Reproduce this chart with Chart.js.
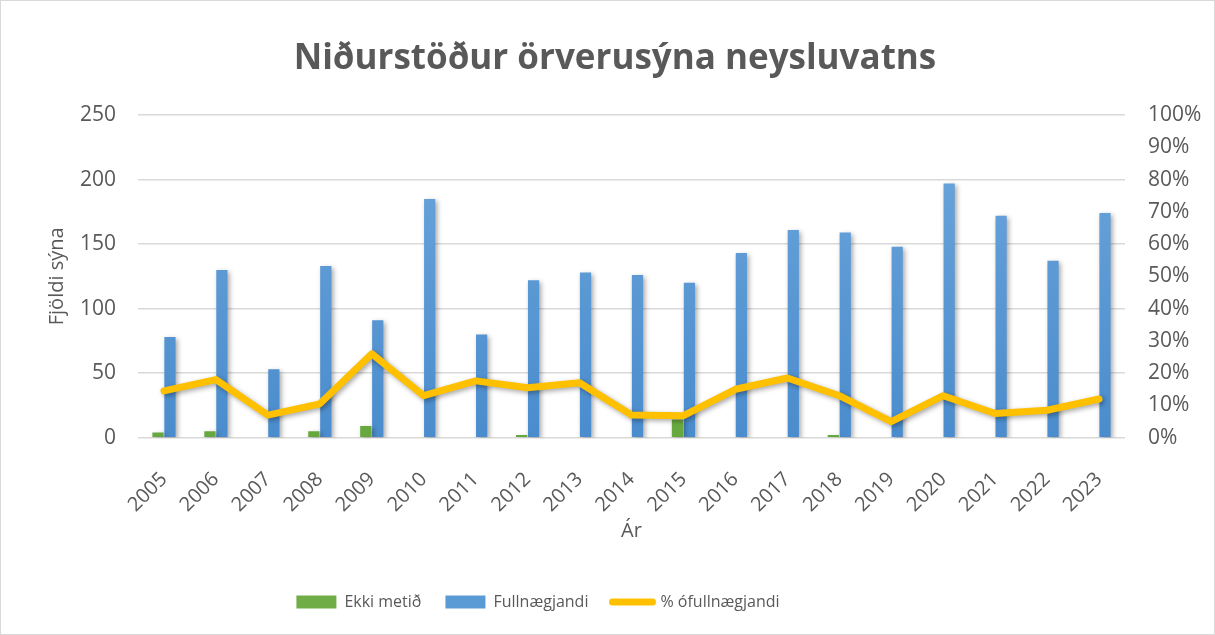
<!DOCTYPE html>
<html><head><meta charset="utf-8">
<script src="https://cdn.jsdelivr.net/npm/chart.js@4/dist/chart.umd.min.js"></script>
<style>
html,body{margin:0;padding:0;background:#fff;}
#wrap{position:absolute;left:0;top:0;width:1213px;height:633px;border:1px solid #d9d9d9;}
</style></head><body>
<div id="wrap"><canvas id="c" width="1213" height="633"></canvas></div>
<script>
const years = ['2005','2006','2007','2008','2009','2010','2011','2012','2013','2014','2015','2016','2017','2018','2019','2020','2021','2022','2023'];
const ekkiMetid = [4,5,0,5,9,0,0,2,0,0,14,0,0,2,0,0,0,0,0];
const fullnaegjandi = [78,130,53,133,91,185,80,122,128,126,120,143,161,159,148,197,172,137,174];
const pctOfullnaegjandi = [14.5,18,7,10.5,26,13,17.6,15.5,17,7,6.8,15,18.5,13,5,13,7.5,8.5,12];
const leftTicks = [0,50,100,150,200,250];

const FONT = '"Open Sans", sans-serif';
const GRAY = '#595959';

const shadowPlugin = {
  id:'shadow',
  beforeDatasetDraw(chart, args){
    const ctx = chart.ctx; ctx.save();
    ctx.shadowColor='rgba(0,0,0,0.35)'; ctx.shadowBlur=5; ctx.shadowOffsetX=2; ctx.shadowOffsetY=2;
  },
  afterDatasetDraw(chart){ chart.ctx.restore(); }
};
const boxShift = {
  id:'boxShift',
  afterLayout(chart){
    const l = chart.legend; if(l){ l.left -= 83; l.right -= 83; }
    const t = chart.titleBlock; if(t){ t.left -= 6; t.right -= 6; }
  }
};

function grad(ctx, c1, c2){
  const ch = ctx.chart; const a = ch.chartArea;
  if(!a) return c2;
  const g = ch.ctx.createLinearGradient(0,a.top,0,a.bottom);
  g.addColorStop(0,c1); g.addColorStop(1,c2); return g;
}

new Chart(document.getElementById('c'), {
  data:{
    labels: years,
    datasets:[
      {type:'bar', label:'Ekki metið', data: ekkiMetid, yAxisID:'y', order:1,
       backgroundColor: c=>grad(c,'#7cbb55','#67a83e'), categoryPercentage:0.46, barPercentage:0.94},
      {type:'bar', label:'Fullnægjandi', data: fullnaegjandi, yAxisID:'y', order:1,
       backgroundColor: c=>grad(c,'#6ea7dc','#4a8ccd'), categoryPercentage:0.46, barPercentage:0.94},
      {type:'line', label:'% ófullnægjandi', data: pctOfullnaegjandi, yAxisID:'y1', order:0,
       borderColor:'#FFC000', backgroundColor:'#FFC000', borderWidth:7, pointRadius:0, tension:0,
       borderJoinStyle:'round', borderCapStyle:'round'}
    ]
  },
  options:{
    responsive:false, animation:false,
    layout:{padding:{left:40,right:13,top:23,bottom:14}},
    plugins:{
      title:{display:true, text:'Niðurstöður örverusýna neysluvatns', color:GRAY,
        font:{family:FONT, size:35, weight:'bold'}, padding:{top:14,bottom:35}},
      legend:{position:'bottom', labels:{color:GRAY, font:{family:FONT,size:16}, usePointStyle:true,
        pointStyleWidth:40, boxHeight:13, padding:24,
        sort:(a,b)=>a.datasetIndex-b.datasetIndex,
        generateLabels(chart){
          const items = Chart.defaults.plugins.legend.labels.generateLabels(chart);
          items.forEach(it=>{
            const ds = chart.data.datasets[it.datasetIndex];
            if(ds.type==='line'){ it.pointStyle='line'; it.strokeStyle='#FFC000'; it.lineWidth=7; it.lineCap='round'; }
            else { it.pointStyle='rect'; it.lineWidth=0; it.fillStyle = it.datasetIndex===0 ? '#70AD47' : '#5B9BD5'; }
          });
          return items;
        }}},
      tooltip:{enabled:false}
    },
    scales:{
      x:{grid:{display:false}, border:{display:false},
        ticks:{color:GRAY, font:{family:FONT,size:20}, maxRotation:45, minRotation:45, padding:22},
        afterFit:s=>{ s.height -= 22; },
        title:{display:true, text:'Ár', color:GRAY, font:{family:FONT,size:20}, padding:{top:2,bottom:27}}},
      y:{position:'left', min:0, max:250, afterBuildTicks:s=>{s.ticks=leftTicks.map(v=>({value:v}));},
        afterFit:s=>{ s.width = 97; },
        grid:{color:'#d9d9d9', lineWidth:1.5, drawTicks:false}, border:{display:false},
        ticks:{color:GRAY, font:{family:FONT,size:21}, padding:22},
        title:{display:true, text:'Fjöldi sýna', color:GRAY, font:{family:FONT,size:20}, padding:{top:4,bottom:4}}},
      y1:{position:'right', min:0, max:100, grid:{display:false, drawTicks:false}, border:{display:false},
        afterFit:s=>{ s.width = 76; },
        ticks:{stepSize:10, color:GRAY, font:{family:FONT,size:21}, padding:23, callback:v=>v+'%'}}
    }
  },
  plugins:[shadowPlugin, boxShift]
});
</script></body></html>
